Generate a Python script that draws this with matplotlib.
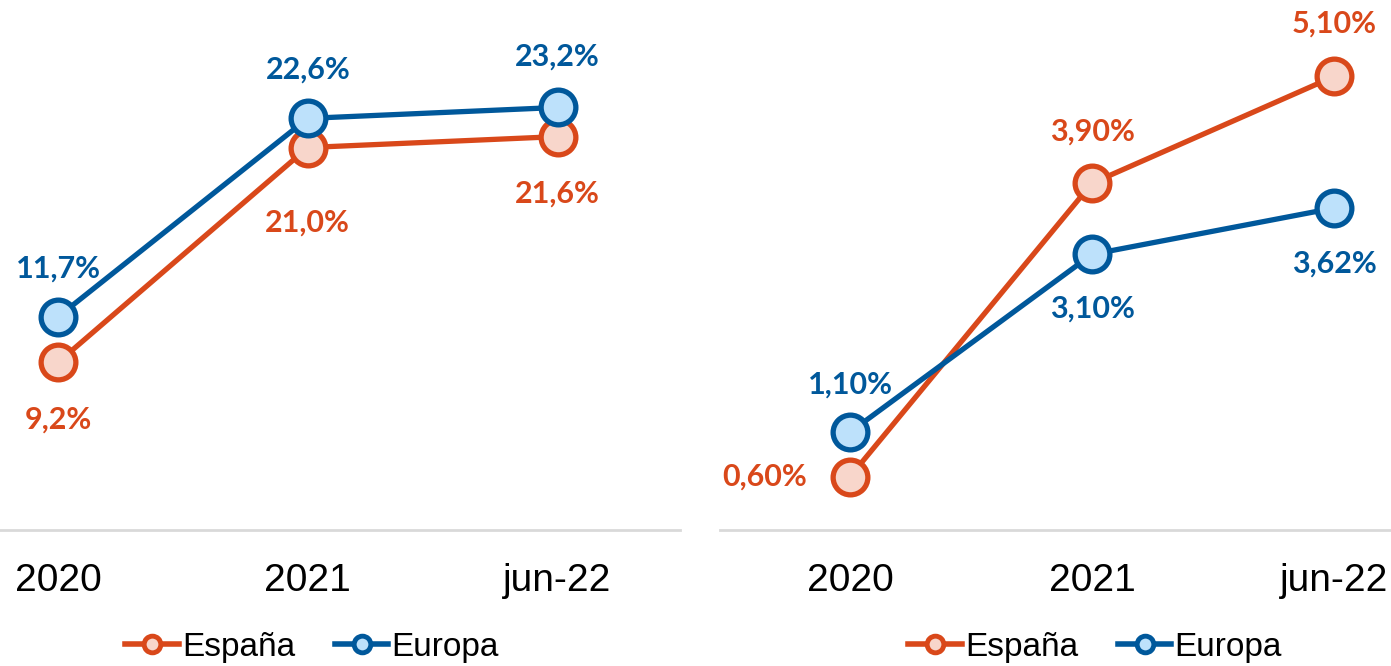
import matplotlib.pyplot as plt
from matplotlib.lines import Line2D

# datos
categorias = ['2020', '2021', 'jun-22']
espana_izq = [9.2, 21.0, 21.6]
europa_izq = [11.7, 22.6, 23.2]
etq_espana_izq = ['9,2%', '21,0%', '21,6%']
etq_europa_izq = ['11,7%', '22,6%', '23,2%']

espana_der = [0.60, 3.90, 5.10]
europa_der = [1.10, 3.10, 3.62]
etq_espana_der = ['0,60%', '3,90%', '5,10%']
etq_europa_der = ['1,10%', '3,10%', '3,62%']

naranja = '#D9481A'
naranja_rel = '#F8D6CB'
azul = '#00589B'
azul_rel = '#BDE1FB'

plt.rcParams['font.family'] = ['Liberation Sans', 'DejaVu Sans']

fig = plt.figure(figsize=(13.91, 6.66), dpi=100)
ax1 = fig.add_axes([0, 136/666, 680/1391, 530/666])
ax2 = fig.add_axes([720/1391, 136/666, 671/1391, 530/666])


def dibuja(ax, x, y, color, relleno):
    ax.plot(x, y, color=color, lw=3.8, marker='o', ms=25, mfc=relleno,
            mec=color, mew=3.8, zorder=3)


def etiqueta(ax, x, y, txt, color, dx, dy):
    ax.annotate(txt, (x, y), xytext=(dx, dy), textcoords='offset pixels',
                ha='center', va='center', color=color, fontsize=22,
                fontweight='bold', family=['Lato', 'DejaVu Sans'])


x = list(range(len(categorias)))

dibuja(ax1, x, espana_izq, naranja, naranja_rel)
dibuja(ax1, x, europa_izq, azul, azul_rel)
off_esp1 = [(0, -57), (0, -75), (0, -57)]
off_eur1 = [(0, 48), (0, 49), (0, 51)]
for i in x:
    etiqueta(ax1, i, espana_izq[i], etq_espana_izq[i], naranja, *off_esp1[i])
    etiqueta(ax1, i, europa_izq[i], etq_europa_izq[i], azul, *off_eur1[i])
ax1.set_xlim(-0.232, 2.49)
ax1.set_ylim(0, 29.1)

dibuja(ax2, x, espana_der, naranja, naranja_rel)
dibuja(ax2, x, europa_der, azul, azul_rel)
off_esp2 = [(-85, 0), (0, 52), (0, 53)]
off_eur2 = [(0, 48), (0, -54), (0, -56)]
for i in x:
    etiqueta(ax2, i, espana_der[i], etq_espana_der[i], naranja, *off_esp2[i])
    etiqueta(ax2, i, europa_der[i], etq_europa_der[i], azul, *off_eur2[i])
ax2.set_xlim(-0.537, 2.235)
ax2.set_ylim(0, 5.96)

for ax, cx in ((ax1, 0.459), (ax2, 0.559)):
    for s in ['top', 'right', 'left']:
        ax.spines[s].set_visible(False)
    ax.spines['bottom'].set_color('#D9D9D9')
    ax.spines['bottom'].set_linewidth(2)
    ax.set_yticks([])
    ax.set_xticks(x)
    ax.set_xticklabels(categorias, fontsize=28)
    ax.tick_params(axis='x', length=0, pad=24)
    ax.patch.set_alpha(0)
    for l in ax.lines:
        l.set_clip_on(False)

    h = [Line2D([], [], color=naranja, lw=4, marker='o', ms=12,
                mfc=naranja_rel, mec=naranja, mew=3.5),
         Line2D([], [], color=azul, lw=4, marker='o', ms=12,
                mfc=azul_rel, mec=azul, mew=3.5)]
    ax.legend(h, ['España', 'Europa'], loc='center', ncol=2, frameon=False,
              fontsize=24, handlelength=1.6, handletextpad=0.1, columnspacing=1.2,
              bbox_to_anchor=(cx, -0.222))

fig.savefig('out.png', dpi=100)
